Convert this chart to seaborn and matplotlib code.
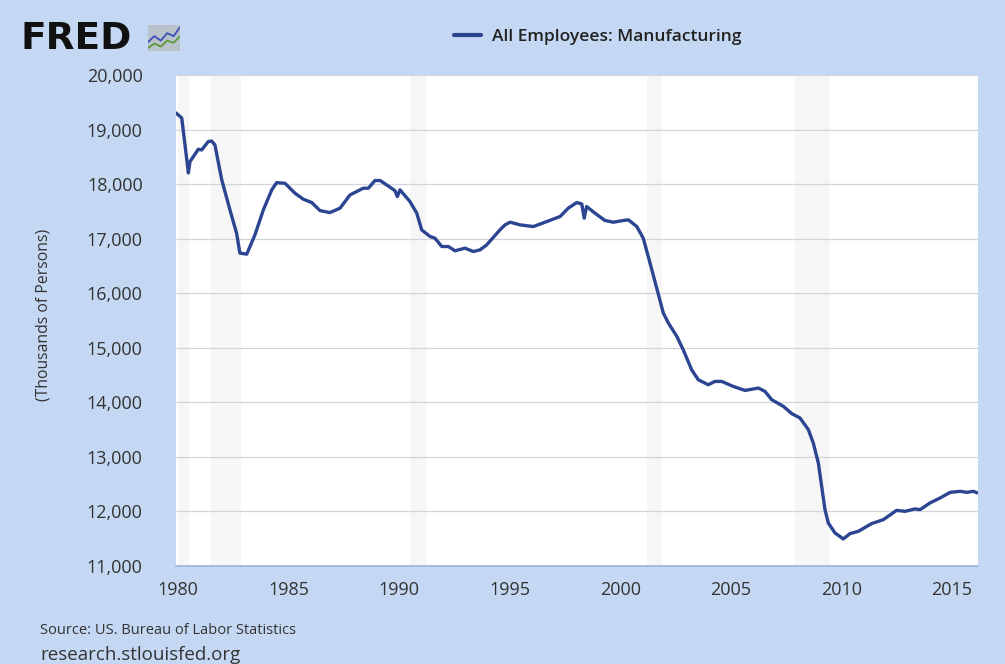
import matplotlib
matplotlib.use("Agg")
import matplotlib.pyplot as plt
import seaborn as sns
import pandas as pd
from matplotlib.ticker import FuncFormatter, FixedLocator

# ---- data ----
years = [1979.91, 1980.17, 1980.47, 1980.54, 1980.92, 1981.07, 1981.37, 1981.52, 1981.67, 1981.98,
         1982.35, 1982.65, 1982.80, 1983.11, 1983.48, 1983.86, 1984.24, 1984.46, 1984.84, 1985.29,
         1985.67, 1986.05, 1986.42, 1986.87, 1987.33, 1987.78, 1988.38, 1988.61, 1988.91, 1989.14,
         1989.59, 1989.81, 1989.92, 1990.04, 1990.49, 1990.80, 1991.02, 1991.40, 1991.62, 1991.93,
         1992.23, 1992.53, 1992.98, 1993.36, 1993.66, 1993.96, 1994.56, 1994.79, 1995.02, 1995.47,
         1996.07, 1996.68, 1997.28, 1997.65, 1998.03, 1998.26, 1998.37, 1998.48, 1998.86, 1999.31,
         1999.69, 2000.14, 2000.37, 2000.75, 2001.04, 2001.35, 2001.65, 2001.95, 2002.18, 2002.56,
         2002.85, 2003.23, 2003.53, 2003.98, 2004.28, 2004.59, 2005.11, 2005.64, 2006.25, 2006.55,
         2006.85, 2007.38, 2007.76, 2008.13, 2008.51, 2008.73, 2008.96, 2009.11, 2009.26, 2009.41,
         2009.71, 2010.09, 2010.39, 2010.77, 2011.37, 2011.90, 2012.50, 2012.88, 2013.33, 2013.56,
         2014.01, 2014.47, 2014.92, 2015.37, 2015.67, 2015.97, 2016.15]
employees = [19304, 19212, 18205, 18410, 18640, 18626, 18780, 18790, 18718, 18077,
             17527, 17100, 16735, 16716, 17070, 17527, 17894, 18027, 18015, 17833,
             17723, 17662, 17515, 17478, 17559, 17802, 17925, 17925, 18066, 18066,
             17943, 17880, 17772, 17894, 17680, 17467, 17161, 17039, 17009, 16856,
             16856, 16777, 16826, 16764, 16795, 16886, 17161, 17253, 17302, 17253,
             17222, 17314, 17406, 17559, 17662, 17637, 17375, 17589, 17467, 17333,
             17302, 17333, 17345, 17222, 17009, 16551, 16093, 15635, 15452, 15208,
             14963, 14597, 14414, 14322, 14383, 14383, 14292, 14218, 14262, 14200,
             14048, 13926, 13792, 13713, 13498, 13255, 12888, 12460, 12033, 11789,
             11606, 11496, 11593, 11636, 11777, 11850, 12020, 12002, 12046, 12033,
             12156, 12248, 12350, 12369, 12350, 12369, 12339]
recession_start = [1980.0, 1981.5, 1990.5, 2001.2, 2007.92]
recession_end = [1980.5, 1982.87, 1991.2, 2001.87, 2009.5]
x_ticks = [1980, 1985, 1990, 1995, 2000, 2005, 2010, 2015]
y_ticks = [11000, 12000, 13000, 14000, 15000, 16000, 17000, 18000, 19000, 20000]
series_name = "All Employees: Manufacturing"

df = pd.DataFrame({"year": years, "value": employees})

sns.set_theme(style="white")
plt.rcParams["font.family"] = ["Open Sans", "DejaVu Sans"]

BG = "#c5d8f3"
LINE = "#2c4592"
TXT = "#333333"

fig = plt.figure(figsize=(10.05, 6.64), dpi=100, facecolor=BG)
ax = fig.add_axes([176/1005, 1-566/664, (978-176)/1005, (566-75)/664])
ax.set_facecolor("white")

for s, e in zip(recession_start, recession_end):
    ax.axvspan(s, e, color="#e4e4e4", alpha=0.3, lw=0, zorder=0)

sns.lineplot(data=df, x="year", y="value", ax=ax, color=LINE, lw=2.4,
             estimator=None, label=series_name, zorder=3)

ax.set_xlim(1979.91, 2016.18)
ax.set_ylim(11000, 20000)
ax.yaxis.set_major_locator(FixedLocator(y_ticks))
ax.xaxis.set_major_locator(FixedLocator(x_ticks))
ax.yaxis.set_major_formatter(FuncFormatter(lambda v, p: f"{int(v):,}"))
ax.grid(axis="y", color="#d4d4dc", lw=0.9)
ax.grid(axis="x", visible=False)
for sp in ["top", "right", "left"]:
    ax.spines[sp].set_visible(False)
ax.spines["bottom"].set_color("#9db3dd")
ax.spines["bottom"].set_linewidth(1.2)
ax.tick_params(axis="x", direction="out", length=7, width=1.2, color="#9db3dd",
               labelsize=13, labelcolor=TXT, pad=4)
ax.tick_params(axis="y", length=0, labelsize=13, labelcolor=TXT, pad=24)
ax.set_xlabel("")
ax.set_ylabel("")
ax.get_legend().remove()

fig.text(43/1005, 1-315/664, "(Thousands of Persons)", rotation=90, ha="center",
         va="center", fontsize=11.3, color=TXT)

# legend at top
h, l = ax.get_legend_handles_labels()
leg = fig.legend(h, l, loc="center left", bbox_to_anchor=(438/1005, 1-37/664),
                 frameon=False, handlelength=1.6, handletextpad=0.6,
                 prop={"size": 12.5, "weight": "semibold"})
for t in leg.get_texts():
    t.set_color("#222222")
for ln in leg.get_lines():
    ln.set_linewidth(3)

# FRED logo
fig.text(20/1005, 1-39/664, "FRED", fontsize=27, fontweight="heavy",
         family=["DejaVu Sans"], color="#111111", va="center", ha="left")
icon = fig.add_axes([148/1005, 1-51/664, 32/1005, 26/664])
icon.set_facecolor("#b9c2cc")
icon.plot([0, 1, 2, 3, 4, 5], [1.2, 2.0, 1.4, 2.4, 2.0, 3.2], color="#3b4fb0", lw=1.3)
icon.plot([0, 1, 2, 3, 4, 5], [0.4, 1.0, 0.6, 1.4, 1.1, 2.0], color="#5a9a3a", lw=1.3)
icon.set_xlim(0, 5)
icon.set_ylim(0, 3.5)
icon.set_xticks([])
icon.set_yticks([])
for sp in icon.spines.values():
    sp.set_visible(False)

fig.text(40/1005, 1-631/664, "Source: US. Bureau of Labor Statistics", fontsize=10.5,
         color=TXT, va="center", ha="left")
fig.text(40/1005, 1-655/664, "research.stlouisfed.org", fontsize=13.5,
         color=TXT, va="center", ha="left")

fig.savefig("out.png", dpi=100, facecolor=BG)
